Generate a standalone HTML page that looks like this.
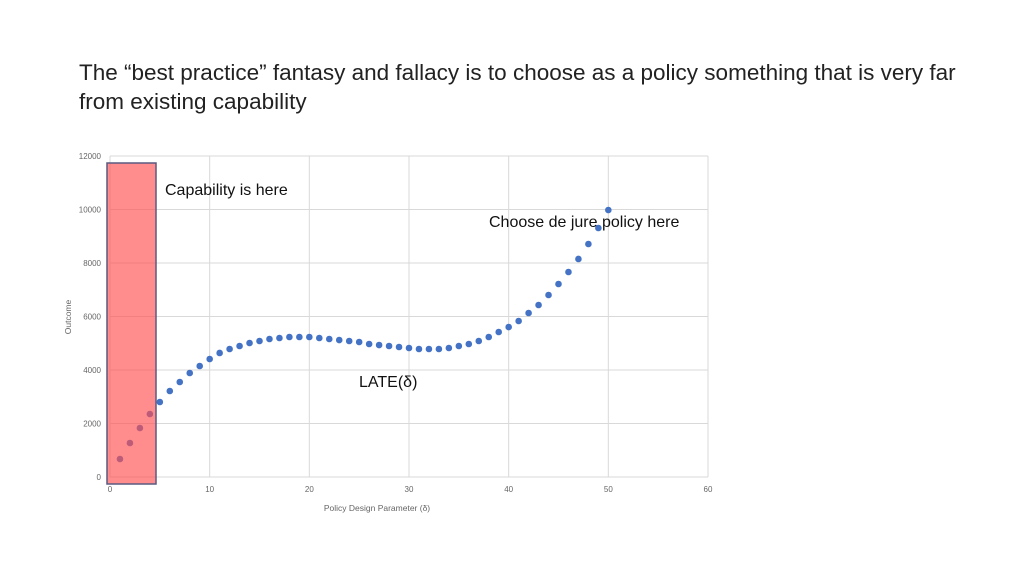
<!DOCTYPE html>
<html><head><meta charset="utf-8"><style>
body{margin:0;background:#fff;width:1024px;height:576px;overflow:hidden;font-family:"Liberation Sans",sans-serif}
.title{position:absolute;left:79px;top:58px;font-size:22.5px;line-height:29px;color:#222;width:900px}
</style></head><body>
<div class="title">The “best practice” fantasy and fallacy is to choose as a policy something that is very far from existing capability</div>
<svg id="chart" width="1024" height="576" style="position:absolute;left:0;top:0"></svg>
<script>
const xVals=[1,2,3,4,5,6,7,8,9,10,11,12,13,14,15,16,17,18,19,20,21,22,23,24,25,26,27,28,29,30,31,32,33,34,35,36,37,38,39,40,41,42,43,44,45,46,47,48,49,50];
const yVals=[673,1271,1832,2355,2804,3215,3551,3888,4150,4411,4636,4785,4897,5009,5084,5159,5196,5234,5234,5234,5196,5159,5121,5084,5047,4972,4934,4897,4860,4822,4785,4785,4785,4822,4897,4972,5084,5234,5421,5607,5832,6131,6430,6804,7215,7664,8150,8710,9308,9981];
const xTicks=[0,10,20,30,40,50,60];
const yTicks=[0,2000,4000,6000,8000,10000,12000];
const X=v=>110+v*(598/60);
const Y=v=>477-v*(321/12000);
const svg=document.getElementById('chart');
const NS='http://www.w3.org/2000/svg';
function mk(t,a,txt){const e=document.createElementNS(NS,t);for(const k in a)e.setAttribute(k,a[k]);if(txt!=null)e.textContent=txt;svg.appendChild(e);return e;}
xTicks.forEach(t=>{
 const l=mk('line',{x1:X(t),x2:X(t),y1:Y(12000),y2:Y(0),stroke:'#d9d9d9','stroke-width':1});
 
 
 const s=mk('text',{x:X(t),y:492,'font-size':8,fill:'#666','text-anchor':'middle'},t);
 
 
});
yTicks.forEach(t=>{
 const l=mk('line',{x1:X(0),x2:X(60),y1:Y(t),y2:Y(t),stroke:'#d9d9d9','stroke-width':1});
 
 
 const s=mk('text',{x:101,y:Y(t)+3,'font-size':8,fill:'#666','text-anchor':'end'},t);
 
 
});
xVals.forEach((x,i)=>{
 const c=mk('circle',{cx:X(x),cy:Y(yVals[i]),r:3.3,fill:'#4472c4'});
 
 
});
const r=mk('rect',{x:107,y:163,width:49,height:321,fill:'rgba(255,80,80,0.65)',stroke:'#5a5a80','stroke-width':1.5});


const xt=mk('text',{x:377,y:511,'font-size':8.5,fill:'#666','text-anchor':'middle'},'Policy Design Parameter (δ)');


const yt=mk('text',{x:71,y:317,'font-size':8.5,fill:'#666','text-anchor':'middle',transform:'rotate(-90 71 317)'},'Outcome');


const a1=mk('text',{x:165,y:195,'font-size':16,fill:'#111'},'Capability is here');


const a2=mk('text',{x:489,y:227,'font-size':16,fill:'#111'},'Choose de jure policy here');


const a3=mk('text',{x:359,y:387,'font-size':16,fill:'#111'},'LATE(δ)');


</script>
</body></html>
